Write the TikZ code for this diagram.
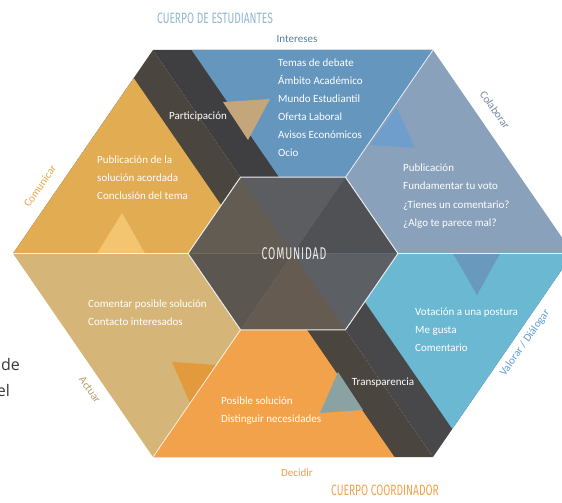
\documentclass[tikz,border=0pt]{standalone}
\usepackage{fontspec}
\setmainfont{Carlito}
\newfontfamily\condfont[FakeStretch=0.68]{Fira Sans}
\newfontfamily\comfont[FakeStretch=0.62, LetterSpace=5]{Fira Sans}
\newfontfamily\sidefont{Open Sans}
\definecolor{cyel}{HTML}{E2AC52}
\definecolor{cyellt}{HTML}{F3C570}
\definecolor{cblue}{HTML}{6496BE}
\definecolor{cgblue}{HTML}{8AA1BB}
\definecolor{clblue}{HTML}{6BB8D3}
\definecolor{corange}{HTML}{F2A24A}
\definecolor{ctan}{HTML}{D6B578}
\definecolor{bandTL}{HTML}{4A463F}
\definecolor{bandT}{HTML}{3F3F41}
\definecolor{bandB}{HTML}{4A453F}
\definecolor{bandBR}{HTML}{48484B}
\definecolor{inUL}{HTML}{625C53}
\definecolor{inT}{HTML}{5C5D61}
\definecolor{inUR}{HTML}{505155}
\definecolor{inLR}{HTML}{5C6064}
\definecolor{inB}{HTML}{665B51}
\definecolor{inLL}{HTML}{5B564F}
\definecolor{accTan}{HTML}{C4A67A}
\definecolor{accBlue}{HTML}{6F9DCC}
\definecolor{accDBlue}{HTML}{6A99BE}
\definecolor{accTeal}{HTML}{8BA2A3}
\definecolor{accOr}{HTML}{E39A3C}
\begin{document}
\begin{tikzpicture}[x=1pt,y=-1pt,
  lst/.style={anchor=base west, text=white, inner sep=0, font=\fontsize{11}{11}\selectfont},
  lbl/.style={inner sep=0, font=\fontsize{11}{11}\selectfont},
  ttl/.style={inner sep=0, font=\condfont\fontsize{15}{15}\selectfont},
  sep/.style={draw=white, line width=0.8pt, opacity=0.85}]
\useasboundingbox (0,0) rectangle (562,503);
\clip (0,0) rectangle (562,503);
% outer hexagon
\coordinate (C) at (293,253.5);
\coordinate (L) at (13,253.5);
\coordinate (TL) at (153,50);
\coordinate (TR) at (433,50);
\coordinate (R) at (573,253.5);
\coordinate (BR) at (433,457);
\coordinate (BL) at (153,457);
% inner hexagon
\coordinate (iL) at (188,253.5);
\coordinate (iTL) at (240.5,177.2);
\coordinate (iTR) at (345.5,177.2);
\coordinate (iR) at (398,253.5);
\coordinate (iBR) at (345.5,329.8);
\coordinate (iBL) at (240.5,329.8);
% sectors
\fill[bandTL] (C)--(L)--(TL)--cycle;
\fill[bandT] (C)--(TL)--(TR)--cycle;
\fill[cgblue] (C)--(TR)--(R)--cycle;
\fill[bandBR] (C)--(R)--(BR)--cycle;
\fill[bandB] (C)--(BR)--(BL)--cycle;
\fill[ctan] (C)--(BL)--(L)--cycle;
% coloured triangles
\fill[cyel] (133.7,78.1)--(L)--(254.4,253.5)--cycle;
\fill[cblue] (191.6,50)--(TR)--(312.3,225.4)--cycle;
\fill[corange] (394.4,457)--(BL)--(273.7,281.6)--cycle;
\fill[clblue] (452.3,428.9)--(R)--(331.6,253.5)--cycle;
% accent triangles
\fill[accTan] (223,102)--(270,99)--(248,140)--cycle;
\fill[accBlue] (397,108)--(415,148)--(370,145)--cycle;
\fill[accDBlue] (453,253.5)--(500,253.5)--(477,295)--cycle;
\fill[accTeal] (338,372)--(363,410)--(320,413)--cycle;
\fill[accOr] (172,362)--(216,365)--(190,403)--cycle;
\fill[cyellt] (122,213)--(97,253.5)--(145,253.5)--cycle;
% separators
\draw[sep] (L)--(iL);
\draw[sep] (TR)--(iTR);
\draw[sep] (R)--(iR);
\draw[sep] (BL)--(iBL);
% inner hexagon
\fill[inUL] (C)--(iL)--(iTL)--cycle;
\fill[inT] (C)--(iTL)--(iTR)--cycle;
\fill[inUR] (C)--(iTR)--(iR)--cycle;
\fill[inLR] (C)--(iR)--(iBR)--cycle;
\fill[inB] (C)--(iBR)--(iBL)--cycle;
\fill[inLL] (C)--(iBL)--(iL)--cycle;
\draw[draw=white!85!gray, line width=1pt] (iL)--(iTL)--(iTR)--(iR)--(iBR)--(iBL)--cycle;
% titles
\node[ttl, text=cblue!70!white] (tEst) at (215,18) {CUERPO DE ESTUDIANTES};
\node[ttl, text=corange] (tCoord) at (385,490) {CUERPO COORDINADOR};
\node[inner sep=0, text=white!85!gray, font=\comfont\fontsize{17}{17}\selectfont] (tCom) at (294,253.5) {COMUNIDAD};
% side labels
\node[lbl, anchor=base, text=cblue!85!black] (lInt) at (297,43) {Intereses};
\node[lbl, text=cyel!90!orange, rotate=55] (lCom) at (40,186) {Comunicar};
\node[lbl, text=cgblue!85!black, rotate=-55] (lCol) at (495,110) {Colaborar};
\node[lbl, text=clblue!85!blue, rotate=55] (lVal) at (525,343) {Valorar / Diálogar};
\node[lbl, text=corange!95!red] (lDec) at (297,473) {Decidir};
\node[lbl, text=ctan!85!black, rotate=-55] (lAct) at (90,390) {Actuar};
\node[lbl, text=white] (lPar) at (198,117) {Participación};
\node[lbl, text=white] (lTra) at (383,383) {Transparencia};
% lists
\foreach \t [count=\i] in {Temas de debate, Ámbito Académico, Mundo Estudiantil, Oferta Laboral, Avisos Económicos, Ocio}
  \node[lst] (b\i) at (278,48.5+18*\i) {\t};
\foreach \t [count=\i] in {Publicación de la, solución acordada, Conclusión del tema}
  \node[lst] (y\i) at (97,145.5+18*\i) {\t};
\foreach \t [count=\i] in {Publicación, Fundamentar tu voto, ¿Tienes un comentario?, ¿Algo te parece mal?}
  \node[lst] (g\i) at (403,153.2+18.3*\i) {\t};
\foreach \t [count=\i] in {Votación a una postura, Me gusta, Comentario}
  \node[lst] (v\i) at (415,297.5+18*\i) {\t};
\foreach \t [count=\i] in {Posible solución, Distinguir necesidades}
  \node[lst] (o\i) at (221,386.5+18*\i) {\t};
\foreach \t [count=\i] in {Comentar posible solución, Contacto interesados}
  \node[lst] (t\i) at (88,289.5+18*\i) {\t};
% cut text at left
\node[anchor=base east, inner sep=0, text=black!78, font=\sidefont\fontsize{16}{16}\selectfont] (cde) at (20,370) {de};
\node[anchor=base east, inner sep=0, text=black!78, font=\sidefont\fontsize{16}{16}\selectfont] (cel) at (10,396) {el};
\end{tikzpicture}
\end{document}
